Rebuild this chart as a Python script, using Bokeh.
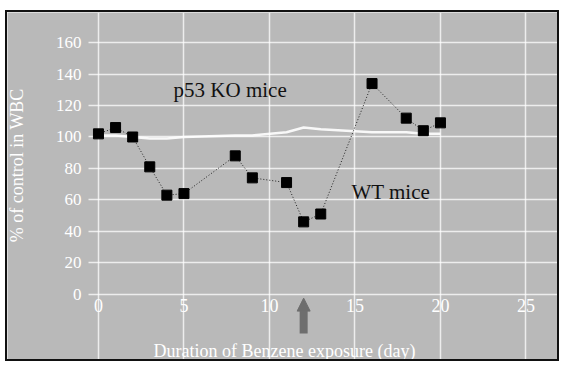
import math
from bokeh.plotting import figure
from bokeh.models import Arrow, NormalHead, Label, FixedTicker, ColumnDataSource
from bokeh.embed import file_html
from bokeh.resources import INLINE

# ---- data ----
wt_days = [0, 1, 2, 3, 4, 5, 8, 9, 11, 12, 13, 16, 18, 19, 20]
wt_values = [102, 106, 100, 81, 63, 64, 88, 74, 71, 46, 51, 134, 112, 104, 109]
ko_days = [0, 1, 2, 3, 4, 5, 8, 9, 11, 12, 13, 16, 18, 19, 20]
ko_values = [101, 101, 100, 99, 99, 100, 101, 101, 103, 106, 105, 103, 103, 102, 102]
x_ticks = [0, 5, 10, 15, 20, 25]
y_ticks = [0, 20, 40, 60, 80, 100, 120, 140, 160]
stop_day = 12
ko_label = ("p53 KO mice", 7.7, 129.6)
wt_label = ("WT mice", 17.1, 64.7)
y_title = ("% of control in WBC", -4.75, 82.0)

FONT = "Liberation Serif"
BG = "#b9b9b9"
X_LEFT, X_RIGHT = -5.32, 27.08
Y_BOTTOM, Y_TOP = -44.1, 179.2
Y_AXIS_AT = -0.585
X_AXIS_AT = -1.5

p = figure(width=554, height=351, x_range=(X_LEFT, X_RIGHT), y_range=(Y_BOTTOM, Y_TOP),
           output_backend="svg", toolbar_location=None,
           min_border_left=0, min_border_right=0, min_border_top=0, min_border_bottom=0,
           background_fill_color=BG, border_fill_color=BG, outline_line_color=None)
p.styles = {"border": "2px solid #111", "margin-left": "5px", "margin-top": "10px"}

# grid
p.xgrid.ticker = FixedTicker(ticks=x_ticks)
p.ygrid.ticker = FixedTicker(ticks=y_ticks)
for g in (p.xgrid, p.ygrid):
    g.grid_line_color = "white"
    g.grid_line_width = 1.5
    g.grid_line_alpha = 0.75
try:
    p.ygrid.cross_bounds = (Y_AXIS_AT, X_RIGHT)
except AttributeError:
    pass

# axes (drawn inside the grey frame)
p.xaxis.ticker = FixedTicker(ticks=x_ticks)
p.yaxis.ticker = FixedTicker(ticks=y_ticks)
p.xaxis.fixed_location = X_AXIS_AT
p.yaxis.fixed_location = Y_AXIS_AT
for ax in (p.xaxis[0], p.yaxis[0]):
    ax.axis_line_color = None
    ax.major_tick_line_color = None
    ax.minor_tick_line_color = None
    ax.major_tick_out = 0
    ax.major_tick_in = 0
    ax.minor_tick_out = 0
    ax.major_label_text_font = FONT
    ax.major_label_text_color = "white"
    ax.axis_label_text_font = FONT
    ax.axis_label_text_color = "white"
    ax.axis_label_text_font_style = "normal"
p.xaxis.major_label_text_font_size = "18px"
p.yaxis.major_label_text_font_size = "17px"
p.xaxis.major_label_standoff = 2
p.yaxis.major_label_standoff = 7
p.xaxis.axis_label = "Duration of Benzene exposure (day)"
p.xaxis.axis_label_text_font_size = "18px"
p.xaxis.axis_label_standoff = 26

# y-axis title, placed beside the tick labels
p.add_layout(Label(x=y_title[1], y=y_title[2], text=y_title[0], angle=math.pi / 2,
                   text_font=FONT, text_font_size="18px", text_color="white",
                   text_align="center", text_baseline="middle"))

# p53 KO series (white line)
ko_src = ColumnDataSource(dict(x=ko_days, y=ko_values))
p.line("x", "y", source=ko_src, line_color="white", line_width=2.5, line_alpha=0.9)

# WT series (dotted line + black squares)
wt_src = ColumnDataSource(dict(x=wt_days, y=wt_values))
p.line("x", "y", source=wt_src, line_color="#222222", line_width=1, line_dash="1 2")
p.scatter("x", "y", source=wt_src, marker="square", size=10, fill_color="black", line_color="black")

# labels
for txt, lx, ly in (ko_label, wt_label):
    p.add_layout(Label(x=lx, y=ly, text=txt, text_font=FONT, text_font_size="21px",
                       text_color="#111111", text_align="center", text_baseline="middle"))

# arrow marking end of exposure
p.add_layout(Arrow(x_start=stop_day, y_start=-25, x_end=stop_day, y_end=-2.5,
                   line_color="#6e6e6e", line_width=8,
                   end=NormalHead(size=13, fill_color="#6e6e6e", line_color="#6e6e6e")))

open("out.html", "w").write(file_html(p, INLINE))
